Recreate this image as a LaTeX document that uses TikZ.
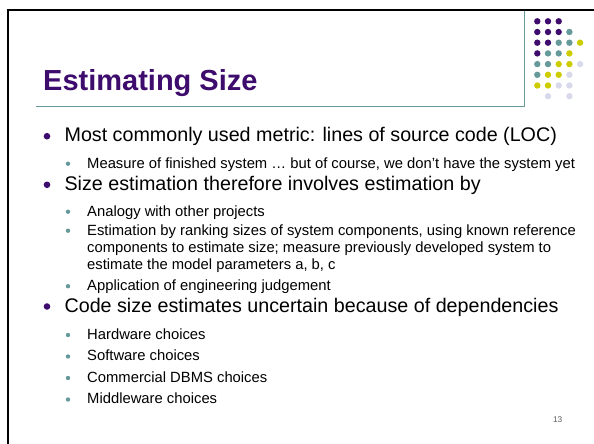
\documentclass[tikz,border=0pt]{standalone}
\usepackage{fontspec}
\setmainfont{Liberation Sans}
\definecolor{slidepurple}{RGB}{62,12,108}
\definecolor{slideteal}{RGB}{102,153,153}
\definecolor{slideyellow}{RGB}{204,204,0}
\definecolor{slidelilac}{RGB}{217,217,236}
\definecolor{pagegray}{RGB}{90,90,90}

\begin{document}
\begin{tikzpicture}[x=1pt,y=-1pt,
	heading/.style={anchor=base west,inner sep=0pt,font=\fontsize{29}{34}\selectfont\bfseries,text=slidepurple},
	itemA/.style={anchor=base west,inner sep=0pt,font=\fontsize{19.7}{24}\selectfont},
	itemB/.style={anchor=base west,inner sep=0pt,font=\fontsize{14.8}{17.5}\selectfont},
	dotA/.style={circle,fill=slidepurple,inner sep=0pt,minimum size=6.6pt},
	dotB/.style={circle,fill=slideteal,inner sep=0pt,minimum size=4.4pt},
	deco/.style={circle,inner sep=0pt,minimum size=6.4pt}]
	\useasboundingbox (0,0) rectangle (594,444);
	\draw[line width=2.8pt,line join=miter] (8,444) -- (8,10) -- (594,10);
	\draw[slideteal,line width=1pt] (36,106) -- (524.5,106) -- (524.5,11);
	\foreach \c/\r/\col in {1/1/slidepurple,2/1/slidepurple,3/1/slidepurple,
		1/2/slidepurple,2/2/slidepurple,3/2/slidepurple,4/2/slideteal,
		1/3/slidepurple,2/3/slidepurple,3/3/slideteal,4/3/slideteal,5/3/slideyellow,
		1/4/slidepurple,2/4/slideteal,3/4/slideteal,4/4/slideyellow,
		1/5/slideteal,2/5/slideteal,3/5/slideyellow,4/5/slideyellow,5/5/slidelilac,
		1/6/slideteal,2/6/slideyellow,3/6/slideyellow,4/6/slidelilac,
		1/7/slideyellow,2/7/slideyellow,3/7/slidelilac,4/7/slidelilac,
		2/8/slidelilac,4/8/slidelilac}
		\node[deco,fill=\col] (dot-\c-\r) at ({526.6+10.7*\c},{10.6+10.7*\r}) {};
	\node[heading] (title) at (43,90.5) {Estimating Size};
	\node[dotA] (b1) at (47,136.2) {};
	\node[itemA] (loc) at (64.4,141.7) {Most commonly used metric: lines of source code (LOC)};
	\node[dotB] (b11) at (68,163.7) {};
	\node[itemB] (finished) at (87,168) {Measure of finished system … but of course, we don’t have the system yet};
	\node[dotA] (b2) at (47,184.8) {};
	\node[itemA] (byest) at (64.4,190.3) {Size estimation therefore involves estimation by};
	\node[dotB] (b21) at (68,211.7) {};
	\node[itemB] (analogy) at (87,216) {Analogy with other projects};
	\node[dotB] (b22) at (68,230.7) {};
	\node[itemB] (ranking) at (87,235) {Estimation by ranking sizes of system components, using known reference};
	\node[itemB] (ranking2) at (87,252.2) {components to estimate size; measure previously developed system to};
	\node[itemB] (ranking3) at (87,269.6) {estimate the model parameters a, b, c};
	\node[dotB] (b23) at (68,286.2) {};
	\node[itemB] (judge) at (87,290.5) {Application of engineering judgement};
	\node[dotA] (b3) at (47,306.5) {};
	\node[itemA] (deps) at (64.4,312) {Code size estimates uncertain because of dependencies};
	\node[dotB] (b31) at (68,335) {};
	\node[itemB] (hw) at (87,339.3) {Hardware choices};
	\node[dotB] (b32) at (68,356.5) {};
	\node[itemB] (sw) at (87,360.8) {Software choices};
	\node[dotB] (b33) at (68,378) {};
	\node[itemB] (dbms) at (87,382.3) {Commercial DBMS choices};
	\node[dotB] (b34) at (68,399.5) {};
	\node[itemB] (mw) at (87,403.8) {Middleware choices};
	\node[anchor=base east,inner sep=0pt,font=\fontsize{8.3}{10}\selectfont,text=pagegray] (page) at (562.5,422.7) {13};
\end{tikzpicture}
\end{document}
